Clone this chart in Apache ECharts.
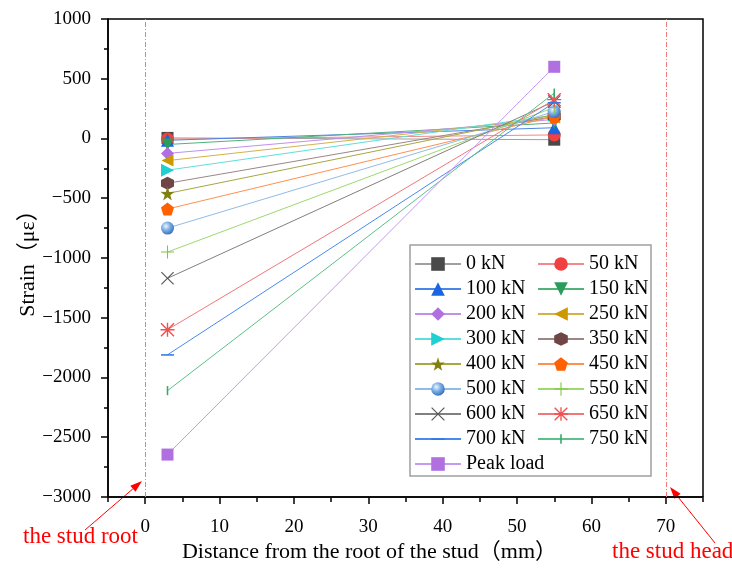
<!DOCTYPE html>
<html>
<head>
<meta charset="utf-8">
<script src="https://cdn.jsdelivr.net/npm/echarts@6/dist/echarts.min.js"></script>
<style>html,body{margin:0;padding:0;background:#fff}#c{width:732px;height:568px}</style>
</head>
<body>
<div id="c"></div>
<script>
// ---- data ----
const xPositions = [3, 55];
const loadNames = ['0 kN','50 kN','100 kN','150 kN','200 kN','250 kN','300 kN','350 kN','400 kN','450 kN','500 kN','550 kN','600 kN','650 kN','700 kN','750 kN','Peak load'];
const rootStrain = [5, -5, -15, -50, -125, -185, -265, -375, -460, -590, -750, -950, -1170, -1600, -1810, -2110, -2645];
const headStrain = [-10, 30, 90, 130, 160, 175, 195, 185, 200, 185, 225, 260, 310, 325, 300, 380, 600];
const xMajorTicks = [0, 10, 20, 30, 40, 50, 60, 70];
const xMinorTicks = [-5, 5, 15, 25, 35, 45, 55, 65, 75];
const studLines = [0, 70];

// ---- styles ----
const FONT = "'Liberation Serif','Times New Roman','Noto Sans CJK SC',serif";
const markerColors = ['#4a4a4a','#f04040','#1a66e0','#2a9d5a','#b070e0','#cc9900','#20d0d0','#704545','#808010','#ff6000','#4f8fd0','#80c840','#555555','#f05050','#2f7ae8','#3aa86a','#b070e0'];
const lineColors  = ['#a0a0a0','#f08a8a','#4a86e8','#4fb37a','#c090ea','#d4b24a','#60dede','#a08585','#a8a840','#ff9050','#90bce8','#a0d870','#808080','#f07878','#4a8af0','#5cc08a','#c69af0'];
const P = 'path://';
const symbols = [
  'rect','circle','triangle',
  P+'M0,0 L100,0 L50,100 Z',
  'diamond',
  P+'M100,0 L100,100 L0,50 Z',
  P+'M0,0 L100,50 L0,100 Z',
  P+'M50,0 L93.3,25 L93.3,75 L50,100 L6.7,75 L6.7,25 Z',
  P+'M50,0 L61.8,35.1 L97.6,34.5 L69.1,56.7 L79.4,90.5 L50,70 L20.6,90.5 L30.9,56.7 L2.4,34.5 L38.2,35.1 Z',
  P+'M50,0 L97.6,34.5 L79.4,90.5 L20.6,90.5 L2.4,34.5 Z',
  'circle',
  P+'M46,0 H54 V46 H100 V54 H54 V100 H46 V54 H0 V46 H46 Z',
  P+'M0,6 L6,0 L50,44 L94,0 L100,6 L56,50 L100,94 L94,100 L50,56 L6,100 L0,94 L44,50 Z',
  P+'M0,7 L7,0 L50,43 L93,0 L100,7 L57,50 L100,93 L93,100 L50,57 L7,100 L0,93 L43,50 Z M45,0 H55 V100 H45 Z M0,45 H100 V55 H0 Z',
  P+'M0,0 M0,45 H100 V57 H0 Z M100,100',
  P+'M0,0 M44,15 H56 V85 H44 Z M100,100',
  'rect'
];
const sizes = [12,13,13,12,13,12,13,13,14,13,13,13,13,14,13,13,12];
const sphereFill = {type:'radial', x:0.38, y:0.35, r:0.7, colorStops:[{offset:0,color:'#eef6ff'},{offset:0.45,color:'#7fb0e4'},{offset:1,color:'#2f6cb8'}]};

const series = loadNames.map((name, i) => {
  const s = {
    name: name,
    type: 'line',
    xAxisIndex: 0,
    data: xPositions.map((x, k) => [x, k === 0 ? rootStrain[i] : headStrain[i]]),
    symbol: symbols[i],
    symbolSize: sizes[i],
    showAllSymbol: true,
    lineStyle: {color: lineColors[i], width: 1},
    itemStyle: {color: i === 10 ? sphereFill : markerColors[i], borderWidth: 0},
    emphasis: {disabled: true}
  };
  if (i === 0) {
    s.markLine = {
      silent: true, symbol: 'none', label: {show: false},
      lineStyle: {color: '#f07a7a', type: [5, 2, 1, 2], width: 1},
      data: studLines.map(v => ({xAxis: v}))
    };
  }
  return s;
});

const col1 = loadNames.filter((n, i) => i % 2 === 0);
const col2 = loadNames.filter((n, i) => i % 2 === 1);

function arrow(x1, y1, x2, y2, color) {
  const dx = x2 - x1, dy = y2 - y1, L = Math.hypot(dx, dy);
  const ux = dx / L, uy = dy / L, hl = 12, hw = 4;
  const bx = x2 - ux * hl, by = y2 - uy * hl;
  return [
    {type: 'line', shape: {x1: x1, y1: y1, x2: bx, y2: by}, style: {stroke: color, lineWidth: 1}},
    {type: 'polygon', shape: {points: [[x2, y2], [bx - uy * hw, by + ux * hw], [bx + uy * hw, by - ux * hw]]}, style: {fill: color}}
  ];
}

const minus = v => String(v).replace('-', '\u2212');
const legendCommon = {
  orient: 'vertical', top: 254, padding: 0,
  itemWidth: 46, itemHeight: 17, itemGap: 5,
  textStyle: {fontFamily: FONT, fontSize: 20, color: '#000'},
  selectedMode: false
};
const GRID_TOP = 19, GRID_BOTTOM = 70, H = 568;

const option = {
  animation: false,
  backgroundColor: '#fff',
  grid: {left: 108, right: 29, top: GRID_TOP, bottom: GRID_BOTTOM, show: true, borderColor: '#000', borderWidth: 1.5, backgroundColor: 'transparent'},
  xAxis: [{
    type: 'value', min: -5, max: 75, position: 'bottom',
    name: 'Distance from the root of the stud（mm）',
    nameLocation: 'middle', nameGap: 44, nameMoveOverlap: false,
    nameTextStyle: {fontFamily: FONT, fontSize: 22, color: '#000', padding: [0, 72, 0, 0]},
    axisLine: {show: true, onZero: false, lineStyle: {color: '#000', width: 1.5}},
    axisTick: {show: true, customValues: xMajorTicks, length: 7, lineStyle: {color: '#000', width: 1.5}},
    axisLabel: {customValues: xMajorTicks, margin: 21, fontFamily: FONT, fontSize: 19, color: '#000'},
    splitLine: {show: false}
  }, {
    type: 'value', min: -5, max: 75, position: 'top',
    offset: -(H - GRID_TOP - GRID_BOTTOM),
    axisLine: {show: false, onZero: false},
    axisTick: {show: true, inside: true, customValues: xMinorTicks, length: 4, lineStyle: {color: '#000', width: 1.5}},
    axisLabel: {show: false},
    splitLine: {show: false}
  }],
  yAxis: {
    type: 'value', min: -3000, max: 1000, interval: 500,
    name: 'Strain（με）',
    nameLocation: 'middle', nameGap: 69, nameMoveOverlap: false,
    nameTextStyle: {fontFamily: FONT, fontSize: 22, color: '#000'},
    axisLine: {show: true, onZero: false, lineStyle: {color: '#000', width: 1.5}},
    axisTick: {show: true, length: 7, lineStyle: {color: '#000', width: 1.5}},
    minorTick: {show: true, splitNumber: 2, length: 4, lineStyle: {color: '#000', width: 1.5}},
    axisLabel: {margin: 17, fontFamily: FONT, fontSize: 19, color: '#000', formatter: minus},
    splitLine: {show: false}
  },
  legend: [
    Object.assign({data: col1, left: 414}, legendCommon),
    Object.assign({data: col2, left: 537}, legendCommon)
  ],
  graphic: [
    {type: 'rect', shape: {x: 410, y: 245, width: 241, height: 231}, style: {fill: 'none', stroke: '#a0a0a0', lineWidth: 1.5}, z: 10},
    {type: 'text', left: 23, top: 525, style: {text: 'the stud root', fill: '#ff0000', font: "23px 'Liberation Serif', serif"}},
    {type: 'text', left: 612, top: 540, style: {text: 'the stud head', fill: '#ff0000', font: "23px 'Liberation Serif', serif"}},
    ...arrow(85, 530, 142, 481, '#ff0000'),
    ...arrow(715, 543, 670, 487, '#ff0000')
  ],
  series: series
};

const chart = echarts.init(document.getElementById('c'), null, {renderer: 'canvas'});
chart.setOption(option);
</script>
</body>
</html>
